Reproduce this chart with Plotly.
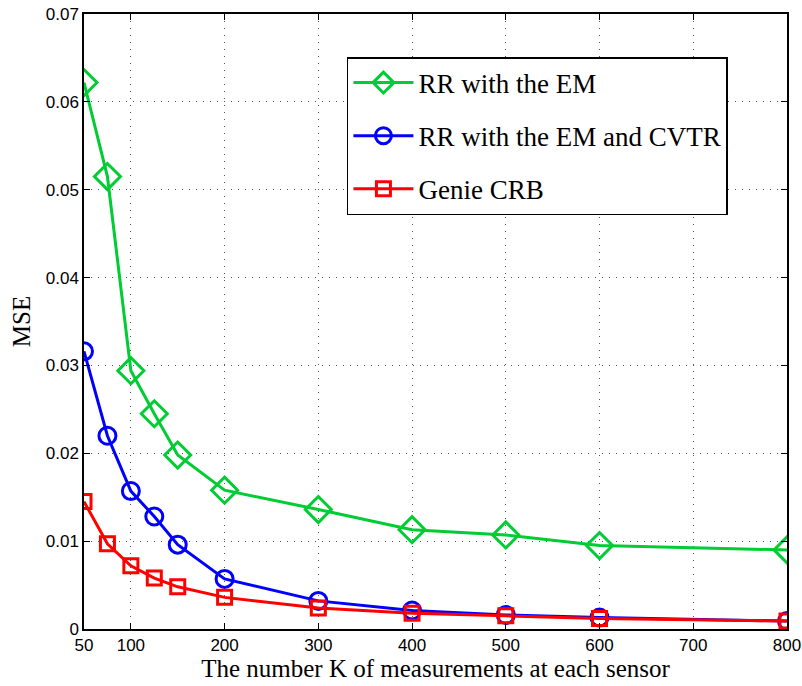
import plotly.graph_objects as go

# Number of measurements K per sensor
k_values = [50, 75, 100, 125, 150, 200, 300, 400, 500, 600, 800]

# MSE for each method
mse_rr_em = [0.0622, 0.0515, 0.0294, 0.0245, 0.0198, 0.0158, 0.0136, 0.0113, 0.0107, 0.0095, 0.0090]
mse_rr_em_cvtr = [0.0316, 0.0220, 0.0157, 0.0128, 0.0096, 0.0057, 0.0032, 0.0021, 0.0016, 0.0013, 0.0009]
mse_genie_crb = [0.0145, 0.0097, 0.0072, 0.0058, 0.0048, 0.0036, 0.0024, 0.0018, 0.0015, 0.0012, 0.0009]

series_names = ["RR with the EM", "RR with the EM and CVTR", "Genie CRB"]

x_ticks = [50, 100, 200, 300, 400, 500, 600, 700, 800]
y_ticks = [0, 0.01, 0.02, 0.03, 0.04, 0.05, 0.06, 0.07]

GREEN = "#00cc33"
BLUE = "#0000ff"
RED = "#ff0000"

fig = go.Figure()

styles = [
    (mse_rr_em, GREEN, "diamond-open", 20),
    (mse_rr_em_cvtr, BLUE, "circle-open", 17),
    (mse_genie_crb, RED, "square-open", 14),
]

for i, ((vals, color, symbol, size), name) in enumerate(zip(styles, series_names)):
    fig.add_trace(go.Scatter(
        x=k_values, y=vals, name=name, mode="lines+markers",
        line=dict(color=color, width=3),
        marker=dict(symbol=symbol, size=size, color=color,
                    line=dict(color=color, width=3)),
        legendgroup=f"g{i}",
    ))

serif = "Liberation Serif, Times New Roman, serif"
sans = "Liberation Sans, Arial, Helvetica, sans-serif"

axis_common = dict(
    showline=True, linecolor="black", linewidth=1.5, mirror="allticks",
    ticks="inside", ticklen=6, tickcolor="black",
    showgrid=True, gridcolor="#555555", gridwidth=1, griddash="1px,6px",
    zeroline=False, automargin=False,
    tickfont=dict(family=sans, size=17, color="black"),
)

fig.update_xaxes(
    range=[50, 800], tickvals=x_ticks, ticktext=[str(v) for v in x_ticks],
    title=dict(text="The number K of measurements at each sensor",
               font=dict(family=serif, size=25, color="black"), standoff=0),
    **axis_common,
)
fig.update_yaxes(
    range=[0, 0.07], tickvals=y_ticks,
    ticktext=["0"] + [f"{v:.2f}" for v in y_ticks[1:]],
    title=dict(text="MSE", font=dict(family=serif, size=25, color="black"), standoff=8),
    **axis_common,
)

fig.update_layout(
    width=802, height=686,
    margin=dict(l=84, r=15, t=14, b=57),
    paper_bgcolor="white", plot_bgcolor="white",
    showlegend=True,
    legend=dict(
        x=0.374, y=0.930, xanchor="left", yanchor="top",
        bgcolor="white", bordercolor="black", borderwidth=1.5,
        font=dict(family=serif, size=27, color="black"),
        traceorder="grouped", tracegroupgap=15,
        itemwidth=60,
    ),
)

fig.write_html("out.html")
